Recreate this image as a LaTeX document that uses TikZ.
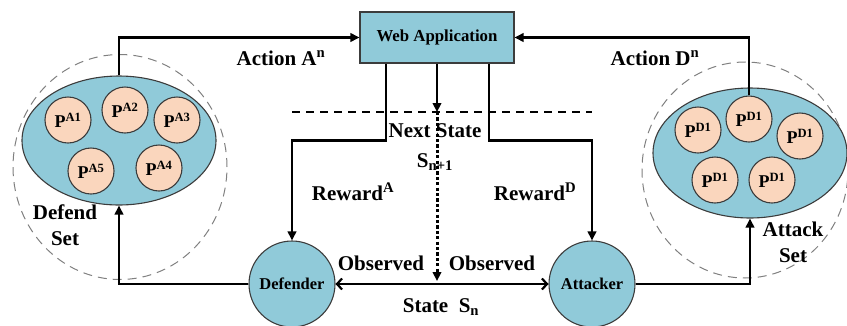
\documentclass[tikz,border=0pt]{standalone}
\usepackage{fontspec}
\setmainfont{Liberation Serif}
\usetikzlibrary{arrows.meta,calc,shapes.geometric}
\definecolor{setblue}{RGB}{144,202,217}
\definecolor{peach}{RGB}{250,214,189}
\definecolor{rim}{RGB}{60,60,60}
\tikzset{
  flow/.style={line width=2.2pt,-{Triangle[length=9pt,width=8.5pt]}},
  biflow/.style={line width=2.2pt,{Straight Barb[length=5pt,width=11pt]}-{Straight Barb[length=5pt,width=11pt]}},
  dotflow/.style={line width=3pt,dash pattern=on 3.2pt off 2.2pt,-{Triangle[length=9pt,width=8.5pt]}},
  setfill/.style={ellipse,draw=rim,line width=1.1pt,fill=setblue,inner sep=0pt},
  ring/.style={ellipse,draw=gray,line width=1pt,dash pattern=on 9pt off 6pt,inner sep=0pt},
  policy/.style={circle,draw=rim,line width=1.1pt,fill=peach,minimum size=46pt,inner sep=0pt,font=\fontsize{18}{18}\selectfont\bfseries},
  agent/.style={circle,draw=rim,line width=1.1pt,fill=setblue,minimum size=86pt,inner sep=0pt,font=\fontsize{16.5}{17}\selectfont\bfseries},
  lbl/.style={font=\fontsize{21}{26}\selectfont\bfseries,inner sep=0pt,align=center},
}
\begin{document}
\begin{tikzpicture}[x=1pt,y=-1pt]
\useasboundingbox (0,0) rectangle (847,325);

% Web application box
\node[draw=rim,line width=1.1pt,fill=setblue,minimum width=154pt,minimum height=51pt,inner sep=0pt,
      font=\fontsize{16.8}{17}\selectfont\bfseries] (web) at (437,37.5) {Web Application};

% defender side set
\node[ring,minimum width=214pt,minimum height=225pt] (lring) at (120,167) {};
\node[setfill,minimum width=194pt,minimum height=129pt] (lset) at (119,140.5) {};
\node[policy] (pa1) at (68,120) {P\textsuperscript{A1}};
\node[policy] (pa2) at (125,110) {P\textsuperscript{A2}};
\node[policy] (pa3) at (177,120) {P\textsuperscript{A3}};
\node[policy] (pa5) at (91,171) {P\textsuperscript{A5}};
\node[policy] (pa4) at (159,168) {P\textsuperscript{A4}};
\node[lbl] (dset) at (65,225) {Defend\\Set};

% attacker side set
\node[ring,minimum width=206pt,minimum height=216pt] (rring) at (745,170) {};
\node[setfill,minimum width=194pt,minimum height=130pt] (rset) at (750,153) {};
\node[policy] (pd1) at (698,130) {P\textsuperscript{D1}};
\node[policy] (pd2) at (749,119) {P\textsuperscript{D1}};
\node[policy] (pd3) at (800,136) {P\textsuperscript{D1}};
\node[policy] (pd4) at (715,180) {P\textsuperscript{D1}};
\node[policy] (pd5) at (772,180) {P\textsuperscript{D1}};
\node[lbl] (aset) at (793,242) {Attack\\Set};

% agents
\node[agent] (def) at (292,284) {Defender};
\node[agent] (att) at (592,284) {Attacker};

% state divider
\coordinate (dl) at (292,112);
\coordinate (dr) at (592,112);
\coordinate (ns) at (437,112);
\coordinate (st) at (437,281);
\draw[line width=1.1pt,dash pattern=on 8pt off 6pt] (dl) -- (dr);

% labels
\node[lbl] (actA) at (281,58) {Action A\textsuperscript{n}};
\node[lbl] (actD) at (655,58) {Action D\textsuperscript{n}};
\node[lbl] (next) at (435,131) {Next State};
\node[lbl] (snext) at (435,162) {S\textsubscript{n+1}};
\node[lbl] (rewA) at (353,192) {Reward\textsuperscript{A}};
\node[lbl] (rewD) at (535,192) {Reward\textsuperscript{D}};
\node[lbl] (obsL) at (381,263) {Observed};
\node[lbl] (obsR) at (492,263) {Observed};
\node[lbl] (sn) at (441,307) {State\ \ S\textsubscript{n}};

% actions into the application
\draw[flow] (lset.north) |- (web.west);
\draw[flow] (pd2.north) |- (web.east);

% rewards and next state out of the application
\draw[flow] ([xshift=-51pt]web.south) -- ++(0,77) -| (def.north);
\draw[flow] ([xshift=52pt]web.south) -- ++(0,77) -| (att.north);
\draw[flow] (web.south) -- (ns);
\draw[dotflow] (ns) -- (st);

% observed state and choice of policy
\draw[biflow] (def) -- (att);
\draw[flow] (def.west) -| (lset.south);
\draw[flow] (att.east) -| (rset.south);
\end{tikzpicture}
\end{document}
